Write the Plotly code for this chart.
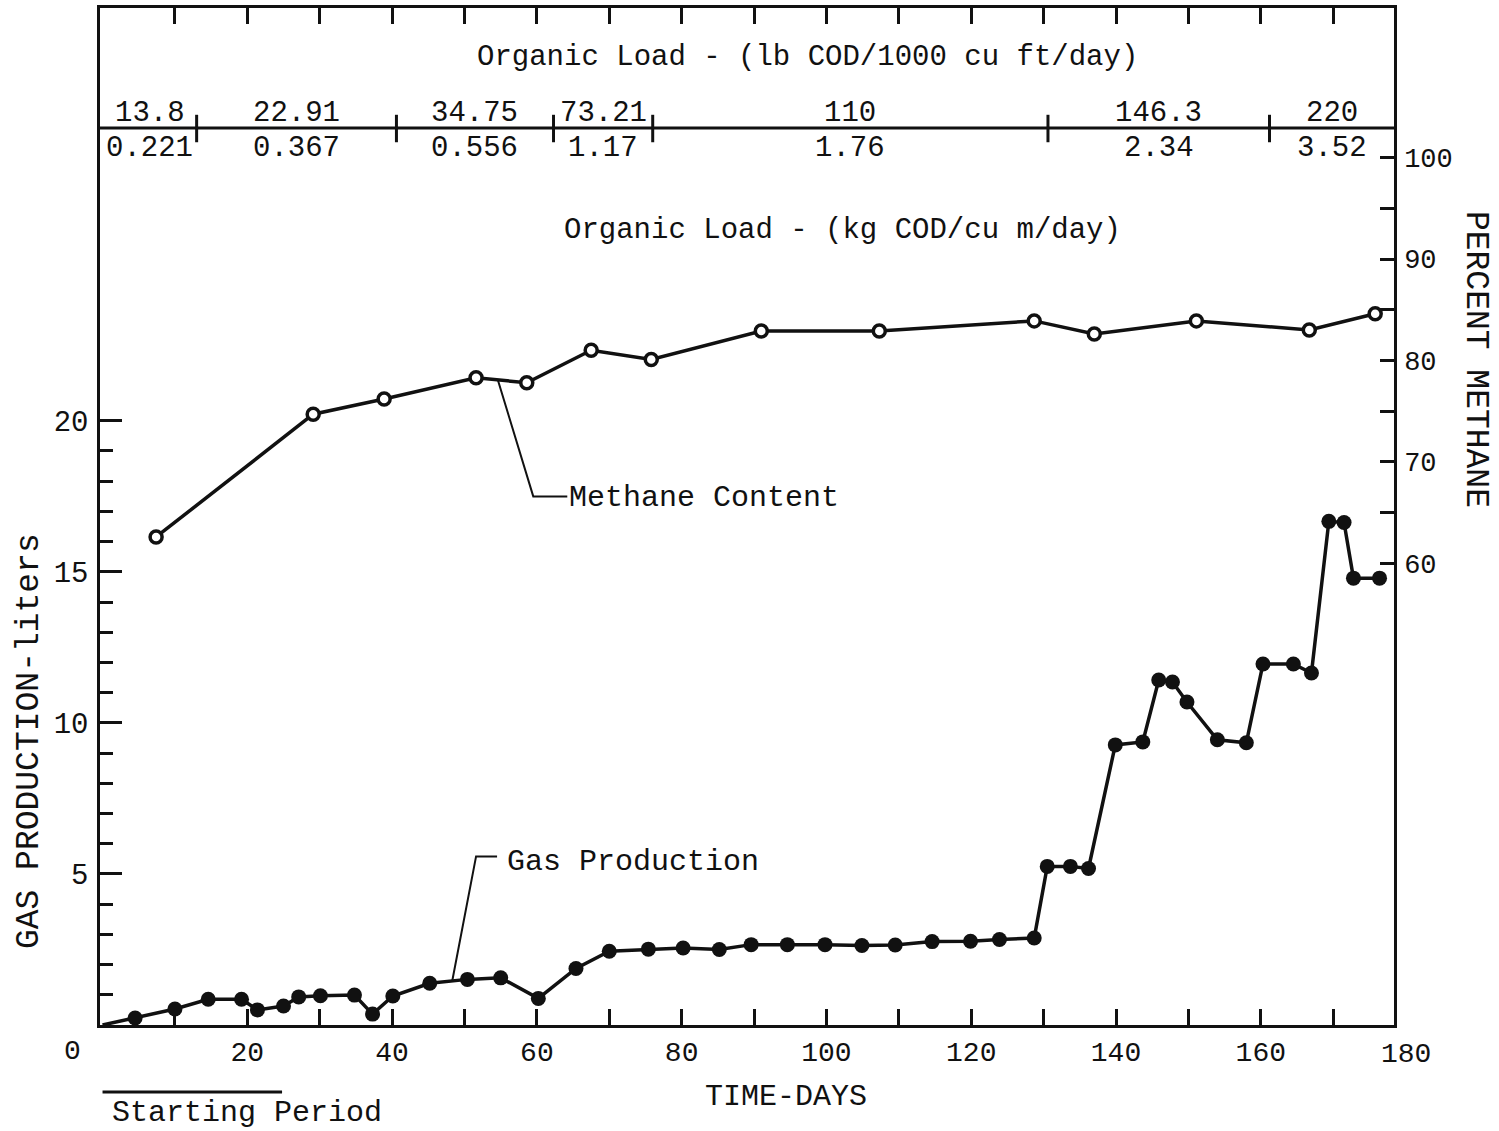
import plotly.graph_objects as go

# Gas production (liters) by time (days)
gas_days = [0, 4.5, 10.0, 14.6, 19.2, 21.4, 25.0, 27.1, 30.1, 34.8,
            37.3, 40.1, 45.2, 50.4, 55.0, 60.2, 65.4, 70.0, 75.4, 80.2,
            85.2, 89.6, 94.6, 99.8, 104.9, 109.5, 114.6, 119.9, 123.9, 128.7,
            130.5, 133.7, 136.2, 139.9, 143.7, 145.9, 147.8, 149.8, 154.0, 158.0,
            160.3, 164.5, 167.0, 169.4, 171.5, 172.8, 176.4]
gas_liters = [0, 0.23, 0.53, 0.85, 0.85, 0.50, 0.63, 0.93, 0.97, 0.99,
              0.36, 0.96, 1.38, 1.51, 1.56, 0.88, 1.87, 2.44, 2.51, 2.55,
              2.50, 2.66, 2.66, 2.66, 2.63, 2.65, 2.76, 2.77, 2.83, 2.88,
              5.25, 5.25, 5.18, 9.27, 9.37, 11.42, 11.35, 10.69, 9.44, 9.34,
              11.95, 11.95, 11.65, 16.67, 16.63, 14.79, 14.79]

# Methane content (percent) by time (days)
methane_days = [7.4, 29.1, 38.9, 51.6, 58.6, 67.5, 75.8, 91.0, 107.3, 128.7,
                137.0, 151.1, 166.7, 175.8]
methane_pct = [62.6, 74.7, 76.2, 78.3, 77.8, 81.0, 80.1, 82.9, 82.9, 83.9,
               82.6, 83.9, 83.0, 84.6]

# Organic loading periods
load_change_days = [13.0, 40.6, 62.3, 76.0, 130.6, 161.2]
load_lb = ["13.8", "22.91", "34.75", "73.21", "110", "146.3", "220"]
load_kg = ["0.221", "0.367", "0.556", "1.17", "1.76", "2.34", "3.52"]

starting_period = [0, 24.8]

x_ticks = list(range(10, 180, 10))
x_labels = [str(v) if v % 20 == 0 else "" for v in x_ticks]
gas_ticks = [5, 10, 15, 20]
gas_minor = [v for v in range(1, 20) if v % 5]
pct_ticks = list(range(60, 105, 5))
pct_labels = [str(v) if v % 10 == 0 else "" for v in pct_ticks]

X_MIN, X_MAX = -0.35, 178.4
FONT = "Liberation Mono"
INK = "#111111"


def label(text, x, y, xref, yref, size=30, xanchor="center", yanchor="middle", **kw):
    return dict(x=x, y=y, xref=xref, yref=yref, text=text, showarrow=False,
                xanchor=xanchor, yanchor=yanchor,
                font=dict(family=FONT, size=size, color=INK), **kw)


fig = go.Figure()

gas_marker_sizes = [0] + [15] * (len(gas_days) - 1)
fig.add_trace(go.Scatter(
    x=gas_days, y=gas_liters, mode="lines+markers", yaxis="y",
    line=dict(color=INK, width=3.5),
    marker=dict(color=INK, size=gas_marker_sizes, opacity=1, line=dict(width=0)),
    cliponaxis=False, showlegend=False,
))
fig.add_trace(go.Scatter(
    x=methane_days, y=methane_pct, mode="lines+markers", yaxis="y2",
    line=dict(color=INK, width=3.5),
    marker=dict(color="white", size=12, opacity=1, line=dict(color=INK, width=3.5)),
    cliponaxis=False, showlegend=False,
))

shapes = []
annotations = []

# Organic load band
band_y = 0.882
shapes.append(dict(type="line", xref="paper", yref="paper", x0=0, x1=1,
                   y0=band_y, y1=band_y, line=dict(color=INK, width=3)))
for d in load_change_days:
    shapes.append(dict(type="line", xref="x", yref="paper", x0=d, x1=d,
                       y0=band_y - 0.014, y1=band_y + 0.013,
                       line=dict(color=INK, width=3)))
bounds = [0] + load_change_days + [X_MAX]
for i, (lb, kg) in enumerate(zip(load_lb, load_kg)):
    mid = (bounds[i] + bounds[i + 1]) / 2
    annotations.append(label(lb, mid, band_y - 0.004, "x", "paper", size=29,
                             yanchor="bottom"))
    annotations.append(label(kg, mid, band_y - 0.002, "x", "paper", size=29,
                             yanchor="top"))

annotations.append(label("Organic Load - (lb COD/1000 cu ft/day)", 0.547, 0.951,
                         "paper", "paper", size=29))
annotations.append(label("Organic Load - (kg COD/cu m/day)", 0.574, 0.781,
                         "paper", "paper", size=29))

# Leader lines for series labels
shapes.append(dict(type="path", xref="x", yref="y2",
                   path="M 54.6 78.1 L 59.5 66.6 L 64.2 66.6",
                   line=dict(color=INK, width=2)))
annotations.append(label("Methane Content", 64.2, 66.4, "x", "y2", xanchor="left"))
shapes.append(dict(type="path", xref="x", yref="y",
                   path="M 48.3 1.45 L 51.6 5.58 L 54.5 5.58",
                   line=dict(color=INK, width=2)))
annotations.append(label("Gas Production", 55.6, 5.4, "x", "y", xanchor="left"))

# Starting period marker below the axis
shapes.append(dict(type="line", xref="x", yref="paper",
                   x0=starting_period[0], x1=starting_period[1],
                   y0=-0.066, y1=-0.066, line=dict(color=INK, width=3)))
annotations.append(label("Starting Period", starting_period[0] + 1.0, -0.087,
                         "x", "paper", xanchor="left"))

# Axis end labels and titles
annotations.append(label("0", 0, -0.026, "x domain", "paper", size=28, xshift=-28))
annotations.append(label("180", (180 - X_MIN) / (X_MAX - X_MIN), -0.029,
                         "x domain", "paper", size=28))
annotations.append(label("TIME-DAYS", 94.4, -0.0706, "x", "paper"))
annotations.append(label("GAS PRODUCTION-liters", -0.054, 9.4, "paper", "y",
                         size=33, textangle=-90))
annotations.append(label("PERCENT METHANE", 1.063, 80.1, "paper", "y2",
                         size=33, textangle=90))

fig.update_layout(
    width=1499, height=1131,
    margin=dict(l=100, r=105, t=5, b=106),
    paper_bgcolor="white", plot_bgcolor="white",
    font=dict(family=FONT, color=INK),
    xaxis=dict(range=[X_MIN, X_MAX], tickvals=x_ticks, ticktext=x_labels,
               ticks="inside", ticklen=16, tickwidth=2.5, tickcolor=INK,
               showline=True, linewidth=2.5, linecolor=INK, mirror="ticks",
               showgrid=False, zeroline=False, ticklabelstandoff=0,
               tickfont=dict(family=FONT, size=28, color=INK)),
    yaxis=dict(range=[0, 33.66], tickvals=gas_ticks,
               ticks="inside", ticklen=22, tickwidth=2.5, tickcolor=INK,
               minor=dict(tickvals=gas_minor, ticks="inside", ticklen=13,
                          tickwidth=2.5, tickcolor=INK, showgrid=False),
               showline=True, linewidth=2.5, linecolor=INK, mirror=False,
               showgrid=False, zeroline=False, ticklabelstandoff=3,
               tickfont=dict(family=FONT, size=29, color=INK)),
    yaxis2=dict(range=[14.5, 114.74], overlaying="y", side="right",
                tickvals=pct_ticks, ticktext=pct_labels,
                ticks="inside", ticklen=14, tickwidth=2.5, tickcolor=INK,
                showline=True, linewidth=2.5, linecolor=INK,
                showgrid=False, zeroline=False, ticklabelstandoff=2,
                tickfont=dict(family=FONT, size=27, color=INK)),
    shapes=shapes,
    annotations=annotations,
)

fig.write_html("out.html")
